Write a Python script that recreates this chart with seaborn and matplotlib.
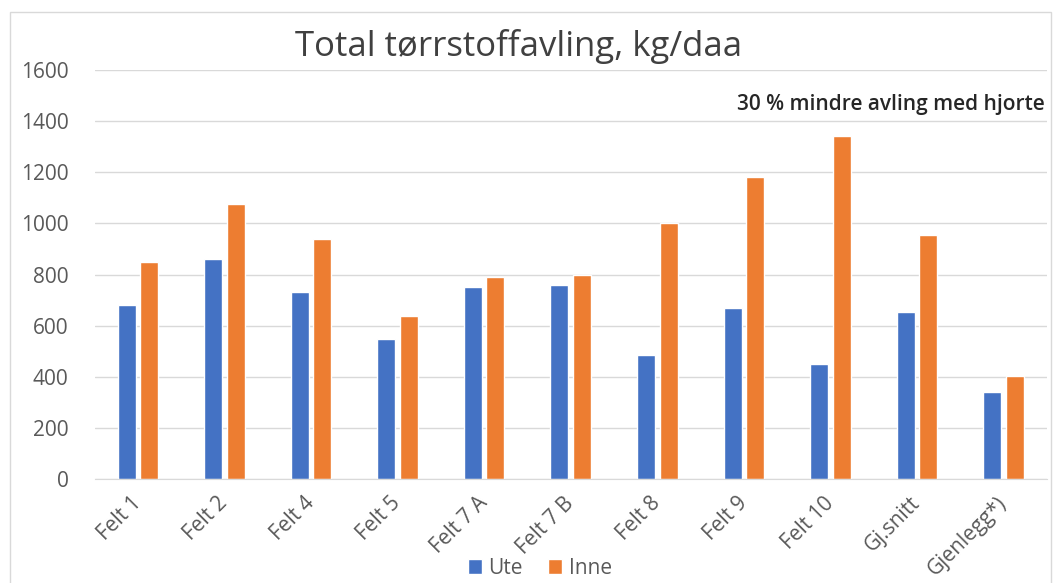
import matplotlib
matplotlib.use("Agg")
import matplotlib.pyplot as plt
import numpy as np
import pandas as pd
import seaborn as sns
from matplotlib.patches import Rectangle

felt = ["Felt 1", "Felt 2", "Felt 4", "Felt 5", "Felt 7 A", "Felt 7 B",
        "Felt 8", "Felt 9", "Felt 10", "Gj.snitt", "Gjenlegg*)"]
ute = [680, 860, 730, 550, 750, 760, 485, 670, 450, 655, 340]
inne = [850, 1075, 940, 640, 790, 800, 1000, 1180, 1340, 955, 405]

df = pd.DataFrame({
    "felt": felt * 2,
    "avling": ute + inne,
    "serie": ["Ute"] * len(felt) + ["Inne"] * len(felt),
})

sns.set_style("white")
plt.rcParams["font.family"] = ["Open Sans", "DejaVu Sans"]

fig = plt.figure(figsize=(10.54, 5.83), dpi=100)
ax = fig.add_axes([0.090, 0.178, 0.903, 0.702])

sns.barplot(data=df, x="felt", y="avling", hue="serie",
            palette={"Ute": "#4472C4", "Inne": "#ED7D31"}, saturation=1,
            width=0.52, gap=0.2, ax=ax, legend=True)

ax.set_ylim(0, 1600)
ax.set_xlim(-0.5, len(felt) - 0.5)
ax.set_yticks(np.arange(0, 1601, 200))
ax.yaxis.grid(True, color="#d9d9d9", lw=1)
ax.set_axisbelow(True)
for s in ["top", "right", "left"]:
    ax.spines[s].set_visible(False)
ax.spines["bottom"].set_color("#d9d9d9")
ax.set_xlabel("")
ax.set_ylabel("")
ax.tick_params(axis="y", length=0, pad=19, labelsize=15, labelcolor="#595959")
ax.tick_params(axis="x", length=0, pad=15, labelsize=15, labelcolor="#595959")
for lab in ax.get_xticklabels():
    lab.set_rotation(45)
    lab.set_horizontalalignment("right")
    lab.set_rotation_mode("anchor")
    lab.set_verticalalignment("center")

ax.text(6.92, 1465, "30 % mindre avling med hjorte", fontsize=15,
        fontweight="semibold", color="#262626", ha="left", va="center",
        clip_on=False)

fig.text(0.492, 0.92, "Total tørrstoffavling, kg/daa", fontsize=25,
         color="#404040", ha="center", va="center")

leg = ax.legend(loc="center", bbox_to_anchor=(0.512, 0.025),
                bbox_transform=fig.transFigure, ncol=2, frameon=False,
                fontsize=15, handlelength=0.7, handleheight=0.7,
                handletextpad=0.3, columnspacing=1.2)
for t in leg.get_texts():
    t.set_color("#595959")

fig.patches.append(Rectangle((10 / 1054, -0.01), 1041 / 1054, 1 - 12 / 583 + 0.01,
                             transform=fig.transFigure, fill=False,
                             edgecolor="#d9d9d9", lw=1))

fig.savefig("out.png", dpi=100)
